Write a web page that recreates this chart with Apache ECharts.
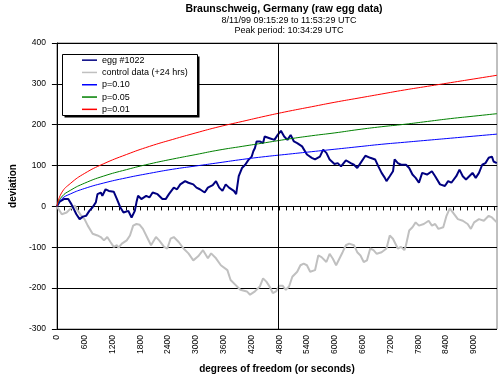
<!DOCTYPE html>
<html>
<head>
<meta charset="utf-8">
<script src="https://cdn.jsdelivr.net/npm/echarts@6/dist/echarts.min.js"></script>
<style>html,body{margin:0;padding:0;background:#fff;}#c{width:500px;height:379px;}</style>
</head>
<body>
<div id="c"></div>
<script>
var titleText = 'Braunschweig, Germany (raw egg data)';
var subLine1 = '8/11/99 09:15:29 to 11:53:29 UTC';
var subLine2 = 'Peak period: 10:34:29 UTC';
var seriesNames = ['egg #1022', 'control data (+24 hrs)', 'p=0.10', 'p=0.05', 'p=0.01'];
var peakT = 4770;

var eggT = [0,60,150,245,315,420,490,560,630,700,770,840,876,946,981,1051,1121,1226,1296,1367,1437,1542,1577,1612,1682,1717,1752,1822,1927,1997,2067,2172,2277,2348,2418,2523,2593,2663,2768,2839,2944,3013,3085,3190,3259,3364,3434,3504,3574,3644,3715,3820,3869,3925,3995,4065,4135,4205,4240,4275,4310,4380,4450,4485,4590,4695,4766,4836,4906,4976,5046,5116,5187,5292,5397,5502,5572,5677,5747,5817,5887,5992,6062,6133,6238,6343,6413,6483,6553,6659,6764,6869,6939,7009,7079,7114,7185,7255,7290,7360,7430,7535,7605,7675,7744,7815,7885,7990,8095,8165,8270,8375,8445,8515,8621,8690,8761,8831,8901,8971,9041,9111,9181,9251,9321,9391,9426,9496];
var eggV = [0,12,18,18,5,-19,-31,-25,-23,-11,-2,10,30,34,26,42,38,36,18,-2,-15,-11,-19,-27,-11,10,26,18,26,22,34,30,18,18,30,46,42,54,62,58,54,46,42,34,46,52,62,46,38,54,46,38,30,74,94,102,114,122,135,143,159,159,155,171,167,163,175,185,171,163,175,159,155,147,127,119,115,122,139,131,115,104,106,98,113,106,102,94,106,124,119,115,98,82,70,62,74,86,115,106,102,102,94,78,70,58,82,78,86,74,54,50,62,58,74,90,74,66,74,82,70,82,102,106,119,122,110,106];

var ctrlT = [0,105,210,280,315,385,456,526,596,666,771,876,946,1016,1087,1156,1226,1296,1331,1402,1507,1577,1646,1717,1787,1857,1962,2032,2138,2208,2313,2383,2453,2523,2628,2733,2839,2944,3049,3154,3259,3329,3434,3539,3680,3749,3854,3959,4100,4170,4275,4380,4450,4521,4590,4661,4731,4801,4871,4941,5011,5082,5187,5257,5327,5397,5467,5572,5642,5712,5817,5887,5957,6027,6097,6167,6238,6308,6413,6483,6553,6623,6693,6764,6834,6904,7009,7114,7185,7254,7359,7429,7500,7535,7605,7675,7744,7815,7920,8025,8095,8165,8235,8340,8410,8480,8550,8655,8761,8866,8936,9006,9111,9216,9321,9391,9496];
var ctrlV = [0,-19,-15,-7,-11,2,-11,-23,-31,-47,-67,-71,-75,-83,-75,-87,-99,-95,-101,-91,-83,-71,-47,-43,-45,-55,-79,-95,-75,-83,-99,-103,-79,-75,-87,-103,-115,-132,-122,-107,-127,-115,-127,-144,-156,-180,-192,-204,-208,-216,-208,-196,-176,-184,-196,-212,-208,-194,-194,-204,-196,-172,-160,-144,-140,-144,-160,-156,-120,-124,-136,-116,-128,-144,-128,-112,-95,-91,-95,-112,-120,-136,-132,-103,-107,-116,-112,-103,-71,-79,-103,-99,-107,-95,-59,-51,-39,-47,-43,-35,-47,-43,-55,-51,-23,-5,-15,-31,-35,-43,-55,-39,-31,-35,-23,-27,-39];

var pT   = [0,100,300,600,1000,1500,2000,2500,3000,3500,4000,4500,5000,5500,6000,6500,7000,7500,8000,8500,9000,9500];
var p10V = [0,18,31,44,57,70,81,91,99,107,115,122,128,134,140,146,152,157,162,167,172,177];
var p05V = [0,23,40,57,74,90,104,116,127,138,147,156,165,173,180,188,195,201,208,215,221,227];
var p01V = [0,33,57,81,104,127,147,164,180,195,208,221,233,244,255,265,275,285,294,303,312,321];

var yMin = -300, yMax = 400, yStep = 100;
var xMin = 0, xMax = 9500, xTickStep = 150, xLabelStep = 600;

function pairs(t, v) { return t.map(function (x, i) { return [x, v[i]]; }); }

var chart = echarts.init(document.getElementById('c'), null, {renderer: 'canvas'});
var font = 'Arial, "Liberation Sans", sans-serif';
chart.setOption({
  animation: false,
  backgroundColor: '#ffffff',
  textStyle: {fontFamily: font},
  graphic: [
    {type: 'text', x: 284, y: 9.5, style: {text: titleText, font: 'bold 10.5px ' + font, fill: '#000', textAlign: 'center', textVerticalAlign: 'middle'}},
    {type: 'text', x: 289, y: 20.5, style: {text: subLine1, font: '9px ' + font, fill: '#000', textAlign: 'center', textVerticalAlign: 'middle'}},
    {type: 'text', x: 289, y: 31, style: {text: subLine2, font: '9px ' + font, fill: '#000', textAlign: 'center', textVerticalAlign: 'middle'}},
    {type: 'rect', z: 50, shape: {x: 64.5, y: 56.5, width: 135, height: 61}, style: {fill: '#000'}},
    {type: 'rect', z: 51, shape: {x: 62.5, y: 54.5, width: 135, height: 61}, style: {fill: '#fff', stroke: '#000', lineWidth: 1}}
  ],
  grid: {left: 45, right: 3, top: 43, bottom: 49, show: true, borderColor: '#808080', borderWidth: 1, backgroundColor: '#fff'},
  legend: {
    show: true, orient: 'vertical', left: 62, top: 54, z: 60,
    padding: [0, 9, 3, 20], itemGap: 0, itemWidth: 15, itemHeight: 1.5, icon: 'rect',
    textStyle: {fontSize: 9, color: '#000', lineHeight: 12.3, fontFamily: font},
    data: seriesNames
  },
  xAxis: {
    type: 'value', min: xMin, max: xMax, interval: xTickStep,
    name: 'degrees of freedom (or seconds)', nameLocation: 'middle', nameGap: 35,
    nameTextStyle: {fontWeight: 'bold', fontSize: 10, color: '#000', fontFamily: font},
    axisLine: {show: true, lineStyle: {color: '#000', width: 1}},
    axisTick: {show: true, length: 4, inside: false, lineStyle: {color: '#000'}},
    axisLabel: {show: true, rotate: 90, fontSize: 8.5, color: '#000', margin: 6, showMaxLabel: false,
      formatter: function (v) { return (v % xLabelStep === 0) ? String(v) : ''; }},
    splitLine: {show: false}
  },
  yAxis: {
    type: 'value', min: yMin, max: yMax, interval: yStep,
    name: 'deviation', nameLocation: 'middle', nameGap: 30, nameRotate: 90,
    nameTextStyle: {fontWeight: 'bold', fontSize: 10, color: '#000', fontFamily: font},
    axisLine: {show: true, onZero: false, lineStyle: {color: '#000', width: 1}},
    axisTick: {show: true, length: 5, lineStyle: {color: '#000'}},
    axisLabel: {fontSize: 8.5, color: '#000', margin: 11},
    splitLine: {show: true, lineStyle: {color: '#000', width: 1}}
  },
  series: [
    {name: seriesNames[1], type: 'line', data: pairs(ctrlT, ctrlV), showSymbol: false, symbol: 'none', color: '#c0c0c0', lineStyle: {color: '#c0c0c0', width: 2}, z: 2},
    {name: seriesNames[0], type: 'line', data: pairs(eggT, eggV), showSymbol: false, symbol: 'none', color: '#000080', lineStyle: {color: '#000080', width: 2}, z: 3,
      markLine: {silent: true, symbol: ['none', 'none'], label: {show: false}, lineStyle: {color: '#000', width: 1, type: 'solid'}, data: [{xAxis: peakT}]}},
    {name: seriesNames[2], type: 'line', data: pairs(pT, p10V), smooth: true, showSymbol: false, symbol: 'none', color: '#0000ff', lineStyle: {color: '#0000ff', width: 1}, z: 4},
    {name: seriesNames[3], type: 'line', data: pairs(pT, p05V), smooth: true, showSymbol: false, symbol: 'none', color: '#008000', lineStyle: {color: '#008000', width: 1}, z: 4},
    {name: seriesNames[4], type: 'line', data: pairs(pT, p01V), smooth: true, showSymbol: false, symbol: 'none', color: '#ff0000', lineStyle: {color: '#ff0000', width: 1}, z: 4}
  ]
});
</script>
</body>
</html>
